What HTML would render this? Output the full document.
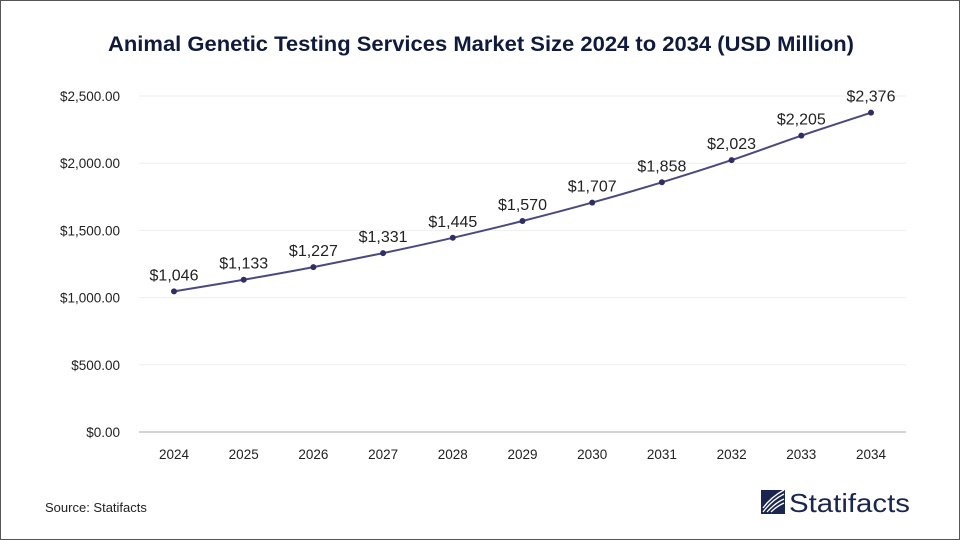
<!DOCTYPE html>
<html><head><meta charset="utf-8"><style>
html,body{margin:0;padding:0;background:#fff}
#wrap{position:relative;width:958px;height:538px;border:1px solid #555;overflow:hidden;font-family:"Liberation Sans",sans-serif}
</style></head><body>
<div id="wrap">
<svg id="chart" width="958" height="538" viewBox="1 1 958 538">
<text x="481" y="51" text-anchor="middle" font-size="21.5" font-weight="bold" fill="#0f1a3d" textLength="746" lengthAdjust="spacingAndGlyphs">Animal Genetic Testing Services Market Size 2024 to 2034 (USD Million)</text>
<g id="grid"></g><g id="series"></g>
<text x="45" y="512" font-size="13" fill="#222">Source: Statifacts</text>
<g>
<rect x="761" y="490" width="24" height="24" fill="#1a2550"/>
<path d="M763 512 Q772 500 784 494 M763 508 Q771 497 784 490 M767 512 Q775 503 784 499 M771 512 Q777 506 784 503" stroke="#fff" stroke-width="1.3" fill="none"/>
<text x="789" y="512" font-size="26" fill="#1a2550" textLength="121" lengthAdjust="spacingAndGlyphs">Statifacts</text>
</g>
</svg>
</div>
<script>
const years=["2024","2025","2026","2027","2028","2029","2030","2031","2032","2033","2034"];
const values=[1046,1133,1227,1331,1445,1570,1707,1858,2023,2205,2376];
const valueLabels=["$1,046","$1,133","$1,227","$1,331","$1,445","$1,570","$1,707","$1,858","$2,023","$2,205","$2,376"];
const yTicks=[0,500,1000,1500,2000,2500];
const yTickLabels=["$0.00","$500.00","$1,000.00","$1,500.00","$2,000.00","$2,500.00"];
const NS="http://www.w3.org/2000/svg";
const y=v=>432-v*336/2500;
const x=i=>174+i*(871-174)/(years.length-1);
function mk(t,a,p){const e=document.createElementNS(NS,t);for(const k in a)e.setAttribute(k,a[k]);p.appendChild(e);return e;}
const g=document.getElementById('grid'),s=document.getElementById('series');
yTicks.forEach((v,i)=>{
 const l=mk('line',{x1:139,x2:906,y1:y(v),y2:y(v),stroke:v===0?'#bbb':'#eee','stroke-width':v===0?1.2:1},g);
 
 
 const t=mk('text',{x:120,y:y(v)+5,'text-anchor':'end','font-size':13.5,fill:'#222'},g);
 t.textContent=yTickLabels[i];
 
 
});
years.forEach((yr,i)=>{
 const t=mk('text',{x:x(i),y:459,'text-anchor':'middle','font-size':13.5,fill:'#222'},g);
 t.textContent=yr;
 
 
});
let d='M'+x(0)+' '+y(values[0]);
for(let i=0;i<values.length-1;i++){
 const p0=[x(Math.max(i-1,0)),y(values[Math.max(i-1,0)])],p1=[x(i),y(values[i])],p2=[x(i+1),y(values[i+1])],p3=[x(Math.min(i+2,values.length-1)),y(values[Math.min(i+2,values.length-1)])];
 d+=` C${p1[0]+(p2[0]-p0[0])/6} ${p1[1]+(p2[1]-p0[1])/6} ${p2[0]-(p3[0]-p1[0])/6} ${p2[1]-(p3[1]-p1[1])/6} ${p2[0]} ${p2[1]}`;
}
const line=mk('path',{d:d,fill:'none',stroke:'#4a4a7e','stroke-width':2},s);


values.forEach((v,i)=>{
 const c=mk('circle',{cx:x(i),cy:y(v),r:3,fill:'#2e2e66'},s);
 
 
 const t=mk('text',{x:x(i),y:y(v)-11,'text-anchor':'middle','font-size':16,fill:'#222'},s);
 t.textContent=valueLabels[i];
 
 
});
</script>
</body></html>
